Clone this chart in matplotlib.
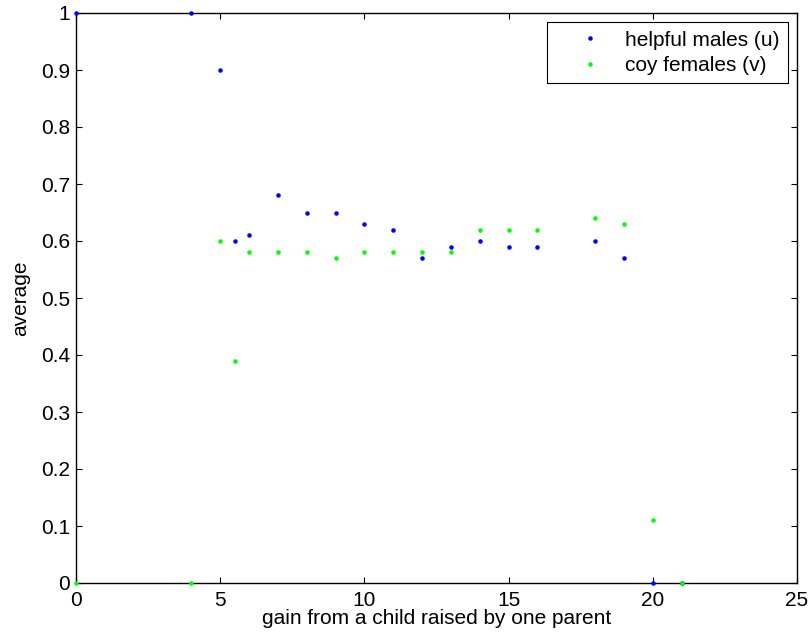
import numpy as np
import matplotlib.pyplot as plt

plt.rcParams['font.family'] = ['Liberation Sans', 'DejaVu Sans']

# gain values and the averages for each population
gain_u = [0, 4, 5, 5.5, 6, 7, 8, 9, 10, 11, 12, 13, 14, 15, 16, 18, 19, 20, 21]
avg_u = [1, 1, 0.9, 0.6, 0.61, 0.68, 0.65, 0.65, 0.63, 0.62, 0.57, 0.59, 0.6, 0.59, 0.59, 0.6, 0.57, 0, 0]

gain_v = [0, 4, 5, 5.5, 6, 7, 8, 9, 10, 11, 12, 13, 14, 15, 16, 18, 19, 20, 21]
avg_v = [0, 0, 0.6, 0.39, 0.58, 0.58, 0.58, 0.57, 0.58, 0.58, 0.58, 0.58, 0.62, 0.62, 0.62, 0.64, 0.63, 0.11, 0]

fig = plt.figure(figsize=(8.11, 6.42), dpi=100)
ax = fig.add_axes([76/811, 1 - 583/642, (797-76)/811, (583-13)/642])

ax.plot(gain_u, avg_u, '.', color='#0000ff', markersize=4.5, label='helpful males (u)', clip_on=False, zorder=3)
ax.plot(gain_v, avg_v, '.', color='#00ff00', markersize=4.5, label='coy females (v)', clip_on=False, zorder=4)

ax.set_xlim(0, 25)
ax.set_ylim(0, 1)
ax.set_xticks(np.arange(0, 26, 5))
ax.set_yticks(np.arange(0, 1.01, 0.1))
ax.set_yticklabels(['0'] + ['%.1f' % v for v in np.arange(0.1, 1.0, 0.1)] + ['1'])
ax.tick_params(direction='in', top=True, right=True, labelsize=15, length=4.5, width=0.8)
ax.tick_params(axis='x', pad=6)
ax.tick_params(axis='y', pad=4.3)
for s in ax.spines.values():
    s.set_linewidth(1.0)

ax.set_xlabel('gain from a child raised by one parent', fontsize=15, labelpad=-1)
ax.set_ylabel('average', fontsize=15, labelpad=8)

leg = ax.legend(loc='upper right', fontsize=15, fancybox=False, framealpha=1,
                edgecolor='black', borderaxespad=0.45, handlelength=3.35,
                handletextpad=0.0, borderpad=0.4, labelspacing=0.3)
leg.get_frame().set_linewidth(0.8)

fig.savefig('out.png', dpi=100)
